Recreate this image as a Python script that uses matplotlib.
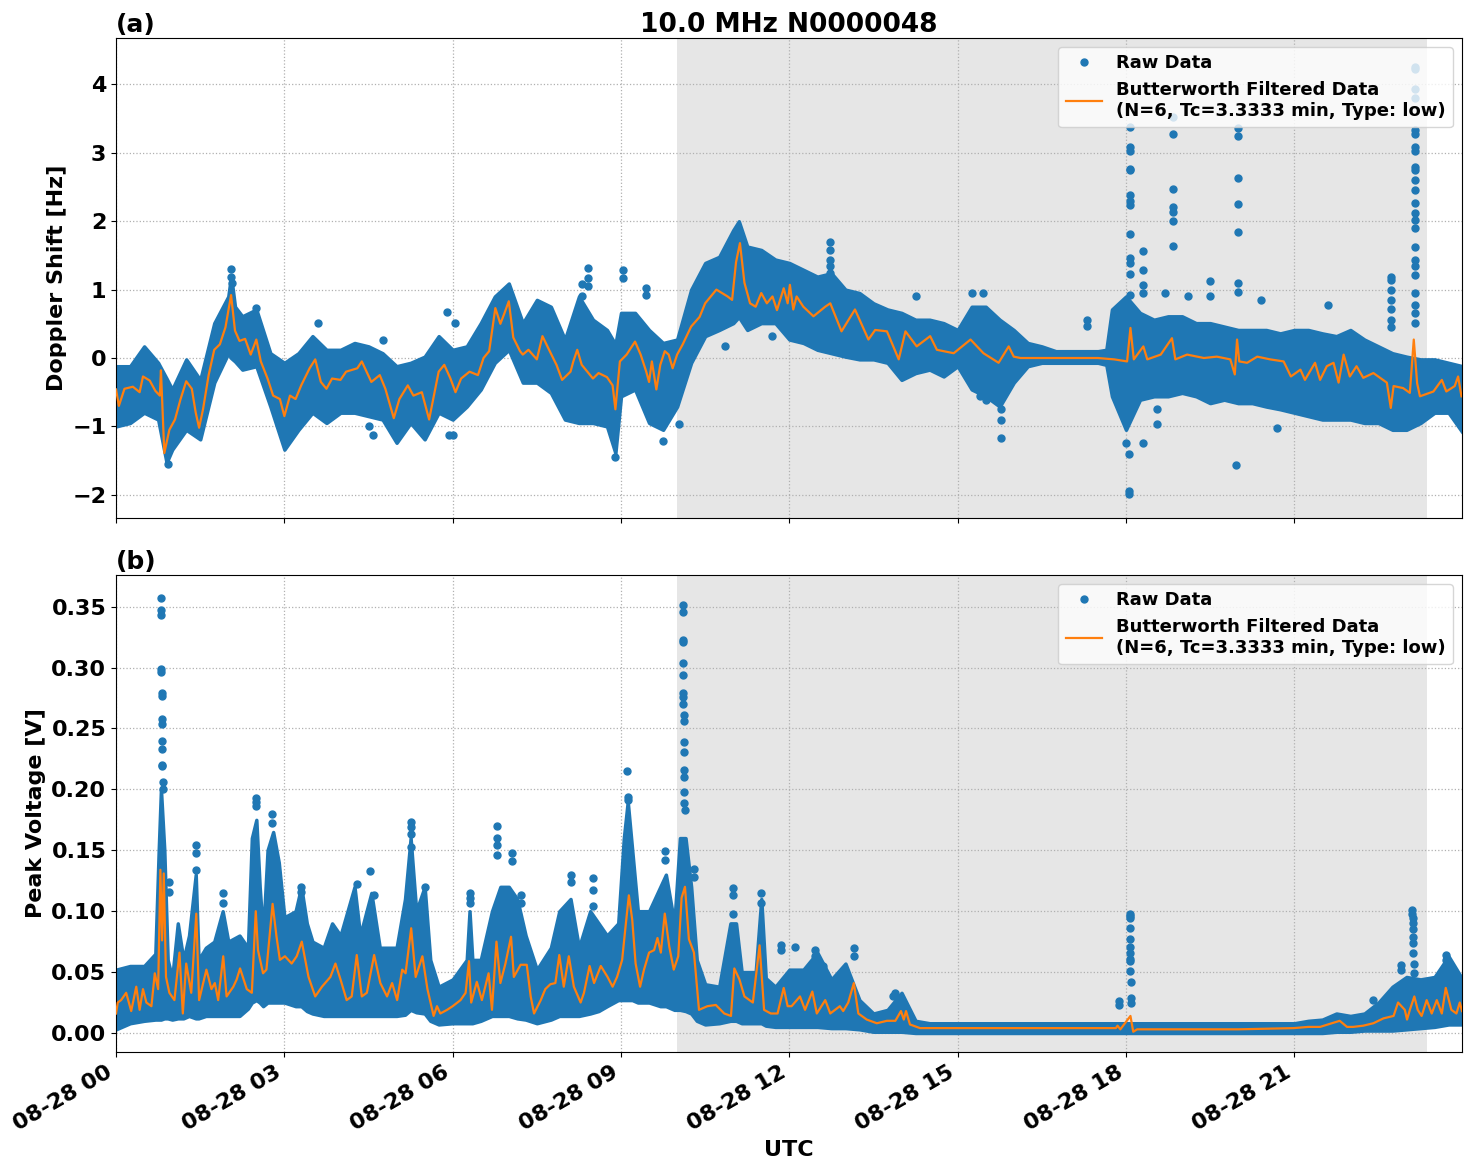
import numpy as np
import pandas as pd
import matplotlib
matplotlib.use('Agg')
import matplotlib.pyplot as plt
import matplotlib.dates as mdates

# hours after 2023-08-28 00 UTC
day = pd.Timestamp('2023-08-28')
shade_start, shade_end = 10.0, 23.36
x_end = 23.99

# Doppler shift: Butterworth filtered line [hour, Hz]
dop_filt = np.array([
    [0.0, -0.46], [0.05, -0.70], [0.15, -0.45], [0.3, -0.42], [0.42, -0.50], [0.48, -0.27],
    [0.6, -0.33], [0.7, -0.48], [0.78, -0.55], [0.8, -0.18], [0.86, -1.39], [0.95, -1.05],
    [1.05, -0.90], [1.15, -0.60], [1.25, -0.34], [1.35, -0.45], [1.42, -0.80], [1.48, -1.02],
    [1.55, -0.75], [1.65, -0.25], [1.75, 0.12], [1.85, 0.20], [1.95, 0.45], [2.05, 0.92],
    [2.12, 0.40], [2.2, 0.25], [2.3, 0.28], [2.4, 0.05], [2.5, 0.27], [2.58, -0.05],
    [2.7, -0.30], [2.8, -0.55], [2.92, -0.60], [3.0, -0.85], [3.1, -0.55], [3.2, -0.60],
    [3.3, -0.40], [3.45, -0.15], [3.55, -0.02], [3.65, -0.35], [3.75, -0.45], [3.85, -0.30],
    [4.0, -0.32], [4.1, -0.20], [4.3, -0.15], [4.38, -0.05], [4.55, -0.35], [4.7, -0.25],
    [4.8, -0.45], [4.95, -0.88], [5.05, -0.60], [5.2, -0.40], [5.3, -0.55], [5.45, -0.50],
    [5.58, -0.90], [5.75, -0.20], [5.85, -0.10], [5.96, -0.30], [6.05, -0.50], [6.15, -0.30],
    [6.3, -0.20], [6.45, -0.25], [6.55, 0.00], [6.65, 0.10], [6.76, 0.73], [6.85, 0.50],
    [6.92, 0.65], [7.0, 0.83], [7.08, 0.30], [7.2, 0.10], [7.25, 0.05], [7.35, 0.12],
    [7.5, -0.02], [7.6, 0.32], [7.7, 0.15], [7.85, -0.10], [7.95, -0.32], [8.1, -0.20],
    [8.15, -0.05], [8.22, 0.12], [8.3, -0.10], [8.4, -0.20], [8.5, -0.30], [8.6, -0.22],
    [8.75, -0.28], [8.85, -0.40], [8.9, -0.75], [8.98, -0.05], [9.1, 0.05], [9.25, 0.24],
    [9.35, 0.05], [9.45, -0.20], [9.5, -0.35], [9.55, -0.05], [9.63, -0.46], [9.7, -0.10],
    [9.78, 0.10], [9.85, 0.05], [9.92, -0.15], [10.0, 0.05], [10.1, 0.20], [10.25, 0.46],
    [10.4, 0.60], [10.5, 0.80], [10.6, 0.90], [10.7, 1.00], [10.8, 0.95], [10.9, 0.90],
    [10.98, 0.85], [11.05, 1.40], [11.12, 1.68], [11.2, 1.10], [11.3, 0.80], [11.4, 0.75],
    [11.5, 0.95], [11.6, 0.80], [11.7, 0.90], [11.78, 0.70], [11.9, 1.02], [11.97, 0.80],
    [12.01, 1.07], [12.07, 0.71], [12.13, 0.90], [12.25, 0.75], [12.43, 0.61], [12.64, 0.75],
    [12.73, 0.80], [12.93, 0.39], [13.17, 0.71], [13.41, 0.27], [13.53, 0.41], [13.74, 0.39],
    [13.95, -0.02], [14.07, 0.39], [14.27, 0.17], [14.51, 0.32], [14.63, 0.12], [14.93, 0.07],
    [15.23, 0.27], [15.46, 0.07], [15.73, -0.07], [15.91, 0.17], [16.0, 0.02], [16.12, 0.0],
    [16.5, 0.0], [17.0, 0.0], [17.5, 0.0], [17.79, -0.02], [18.02, -0.05], [18.08, 0.44],
    [18.14, -0.02], [18.31, 0.17], [18.38, -0.02], [18.62, 0.05], [18.82, 0.29], [18.88, -0.02],
    [19.09, 0.05], [19.39, 0.0], [19.62, 0.02], [19.86, -0.02], [19.94, -0.24], [19.98, 0.27],
    [20.02, -0.05], [20.16, -0.07], [20.34, 0.02], [20.57, -0.02], [20.81, -0.05], [20.94, -0.27],
    [21.11, -0.17], [21.19, -0.32], [21.37, -0.07], [21.46, -0.32], [21.58, -0.12], [21.7, -0.07],
    [21.79, -0.36], [21.88, 0.05], [21.99, -0.27], [22.11, -0.12], [22.23, -0.29], [22.41, -0.22],
    [22.65, -0.36], [22.72, -0.73], [22.77, -0.41], [22.94, -0.44], [23.06, -0.51], [23.13, 0.27],
    [23.19, -0.37], [23.24, -0.56], [23.48, -0.49], [23.63, -0.32], [23.71, -0.49], [23.86, -0.41],
    [23.92, -0.27], [23.98, -0.56],
])

# Doppler shift: spread of the raw points [hour, low, high]
dop_band = np.array([
    [0.0, -1.00, -0.12], [0.25, -0.95, -0.12], [0.5, -0.80, 0.17], [0.75, -0.90, -0.07],
    [0.9, -1.53, -0.30], [1.0, -1.34, -0.46], [1.25, -1.05, -0.02], [1.5, -1.19, -0.32],
    [1.75, -0.36, 0.51], [2.0, 0.07, 0.90], [2.05, 0.00, 1.20], [2.12, -0.05, 0.75],
    [2.25, -0.17, 0.61], [2.5, -0.12, 0.71], [2.75, -0.71, 0.07], [3.0, -1.34, -0.07],
    [3.25, -1.05, 0.07], [3.5, -0.80, 0.32], [3.75, -0.95, 0.12], [4.0, -0.80, 0.12],
    [4.25, -0.80, 0.22], [4.5, -0.85, 0.17], [4.75, -0.90, 0.07], [5.0, -1.24, -0.12],
    [5.25, -0.95, -0.07], [5.5, -1.19, 0.02], [5.75, -0.80, 0.32], [6.0, -0.90, 0.12],
    [6.25, -0.71, 0.17], [6.5, -0.46, 0.51], [6.75, -0.07, 0.90], [7.0, 0.12, 1.09],
    [7.25, -0.36, 0.51], [7.5, -0.36, 0.85], [7.75, -0.51, 0.75], [8.0, -0.90, 0.27],
    [8.25, -0.95, 0.90], [8.5, -0.95, 0.56], [8.75, -1.00, 0.41], [8.9, -1.39, 0.20],
    [9.0, -0.56, 0.66], [9.25, -0.46, 0.66], [9.5, -0.95, 0.41], [9.75, -1.05, 0.22],
    [10.0, -0.71, 0.27], [10.25, -0.07, 1.00], [10.5, 0.32, 1.39], [10.75, 0.41, 1.48],
    [11.0, 0.51, 1.87], [11.1, 0.60, 2.00], [11.25, 0.41, 1.63], [11.5, 0.51, 1.58],
    [11.75, 0.51, 1.44], [12.0, 0.27, 1.39], [12.25, 0.22, 1.29], [12.5, 0.12, 1.19],
    [12.75, 0.07, 1.24], [13.0, 0.02, 1.00], [13.25, -0.02, 0.95], [13.5, -0.02, 0.80],
    [13.75, -0.07, 0.71], [14.0, -0.32, 0.66], [14.25, -0.22, 0.56], [14.5, -0.17, 0.56],
    [14.75, -0.27, 0.51], [15.0, -0.12, 0.41], [15.25, -0.46, 0.75], [15.5, -0.56, 0.75],
    [15.75, -0.71, 0.56], [16.0, -0.36, 0.41], [16.25, -0.12, 0.22], [16.5, -0.07, 0.17],
    [16.75, -0.07, 0.10], [17.0, -0.07, 0.10], [17.25, -0.07, 0.10], [17.5, -0.07, 0.10],
    [17.65, -0.10, 0.12], [17.75, -0.56, 0.71], [18.0, -1.05, 0.90], [18.25, -0.61, 0.66],
    [18.5, -0.56, 0.56], [18.75, -0.56, 0.61], [19.0, -0.51, 0.61], [19.25, -0.56, 0.51],
    [19.5, -0.66, 0.51], [19.75, -0.61, 0.46], [20.0, -0.66, 0.41], [20.25, -0.66, 0.41],
    [20.5, -0.71, 0.41], [20.75, -0.75, 0.36], [21.0, -0.80, 0.41], [21.25, -0.85, 0.41],
    [21.5, -0.90, 0.36], [21.75, -0.90, 0.32], [22.0, -0.90, 0.41], [22.25, -0.95, 0.27],
    [22.5, -0.95, 0.17], [22.75, -1.05, 0.07], [23.0, -1.05, 0.02], [23.25, -0.95, -0.02],
    [23.5, -0.80, -0.02], [23.75, -0.80, -0.07], [24.0, -1.09, -0.12],
])

# Doppler shift: isolated raw points outside the band [hour, Hz]
dop_out = np.array([
    [2.04, 1.30], [2.04, 1.19], [2.07, 1.10], [2.5, 0.73], [3.6, 0.51], [5.9, 0.68],
    [4.75, 0.27], [6.05, 0.51], [4.58, -1.12], [4.5, -1.00], [5.93, -1.13], [0.92, -1.55],
    [8.42, 1.31], [8.42, 1.17], [8.42, 1.05], [8.3, 0.90], [8.3, 1.08], [9.04, 1.28],
    [9.04, 1.17], [9.45, 1.02], [9.45, 0.92], [6.0, -1.13], [10.03, -0.96], [9.75, -1.21],
    [10.85, 0.17], [11.7, 0.32], [8.9, -1.45],
    [12.73, 1.69], [12.73, 1.58], [12.73, 1.44], [12.73, 1.34], [12.73, 1.24],
    [15.78, -0.75], [15.78, -0.90], [15.78, -1.17], [15.4, -0.56], [15.5, -0.61],
    [15.25, 0.95], [15.45, 0.95], [14.25, 0.90], [17.3, 0.56], [17.3, 0.47],
    [18.08, 3.38], [18.08, 3.08], [18.08, 3.02], [18.08, 2.77], [18.08, 2.75], [18.08, 2.38],
    [18.08, 2.29], [18.08, 2.24], [18.08, 1.82], [18.08, 1.46], [18.08, 1.39], [18.08, 1.23],
    [18.08, 0.92], [18.0, -1.24], [18.06, -1.41], [18.06, -1.95], [18.06, -1.99],
    [18.84, 3.53], [18.84, 3.28], [18.84, 2.47], [18.84, 2.21], [18.84, 2.14], [18.84, 2.01],
    [18.84, 1.64],
    [19.99, 3.36], [19.99, 3.24], [19.99, 2.63], [19.99, 2.25], [19.99, 1.84], [19.99, 1.09],
    [19.99, 0.97], [19.96, -1.57],
    [23.15, 4.26], [23.15, 4.23], [23.15, 3.94], [23.15, 3.80], [23.15, 3.33], [23.15, 3.28],
    [23.15, 3.09], [23.15, 3.02], [23.15, 2.80], [23.15, 2.75], [23.15, 2.60], [23.15, 2.46],
    [23.15, 2.26], [23.15, 2.12], [23.15, 2.02], [23.15, 1.90], [23.15, 1.63], [23.15, 1.44],
    [23.15, 1.34], [23.15, 1.22], [23.15, 0.95], [23.15, 0.78], [23.15, 0.66], [23.15, 0.51],
    [22.72, 1.19], [22.72, 1.14], [22.72, 1.00], [22.72, 0.85], [22.72, 0.71], [22.72, 0.56],
    [22.72, 0.46],
    [18.3, 1.56], [18.3, 1.29], [18.3, 1.07], [18.3, 0.95], [18.55, -0.75], [18.55, -0.97],
    [18.3, -1.24], [20.7, -1.02], [19.5, 1.12], [19.5, 0.90], [18.7, 0.95], [19.1, 0.90],
    [20.4, 0.85], [21.6, 0.78],
])

# Peak voltage: Butterworth filtered line [hour, V]
vol_filt = np.array([
    [0.0, 0.016], [0.03, 0.025], [0.09, 0.027], [0.18, 0.033], [0.27, 0.018], [0.36, 0.038],
    [0.42, 0.019], [0.48, 0.036], [0.54, 0.025], [0.63, 0.022], [0.69, 0.049], [0.75, 0.036],
    [0.79, 0.134], [0.82, 0.076], [0.85, 0.131], [0.89, 0.046], [0.95, 0.033], [1.04, 0.027],
    [1.13, 0.066], [1.19, 0.016], [1.25, 0.057], [1.34, 0.033], [1.43, 0.098], [1.48, 0.027],
    [1.61, 0.052], [1.70, 0.036], [1.76, 0.041], [1.82, 0.027], [1.91, 0.063], [1.97, 0.030],
    [2.09, 0.038], [2.15, 0.044], [2.21, 0.053], [2.33, 0.036], [2.42, 0.033], [2.49, 0.100],
    [2.53, 0.068], [2.62, 0.049], [2.68, 0.052], [2.79, 0.106], [2.86, 0.079], [2.92, 0.060],
    [3.01, 0.063], [3.13, 0.057], [3.22, 0.063], [3.31, 0.075], [3.43, 0.046], [3.55, 0.030],
    [3.67, 0.038], [3.82, 0.046], [3.91, 0.057], [4.0, 0.044], [4.11, 0.027], [4.20, 0.030],
    [4.29, 0.064], [4.38, 0.030], [4.47, 0.033], [4.60, 0.064], [4.71, 0.041], [4.83, 0.030],
    [4.92, 0.041], [5.01, 0.027], [5.10, 0.052], [5.16, 0.049], [5.26, 0.086], [5.34, 0.046],
    [5.46, 0.063], [5.55, 0.036], [5.66, 0.014], [5.72, 0.022], [5.78, 0.016], [5.90, 0.019],
    [6.0, 0.022], [6.14, 0.027], [6.23, 0.033], [6.29, 0.059], [6.33, 0.025], [6.43, 0.042],
    [6.52, 0.027], [6.64, 0.049], [6.70, 0.019], [6.78, 0.075], [6.85, 0.041], [6.94, 0.057],
    [7.04, 0.079], [7.09, 0.046], [7.21, 0.056], [7.32, 0.056], [7.39, 0.030], [7.45, 0.016],
    [7.57, 0.027], [7.65, 0.036], [7.74, 0.040], [7.83, 0.041], [7.90, 0.064], [7.98, 0.038],
    [8.07, 0.063], [8.16, 0.038], [8.28, 0.025], [8.34, 0.033], [8.44, 0.055], [8.52, 0.041],
    [8.64, 0.055], [8.76, 0.046], [8.85, 0.038], [8.93, 0.046], [9.02, 0.060], [9.08, 0.087],
    [9.14, 0.113], [9.20, 0.093], [9.26, 0.057], [9.34, 0.038], [9.41, 0.052], [9.5, 0.066],
    [9.59, 0.068], [9.65, 0.078], [9.71, 0.066], [9.78, 0.098], [9.86, 0.071], [9.94, 0.052],
    [10.02, 0.063], [10.08, 0.111], [10.14, 0.120], [10.21, 0.077], [10.30, 0.066], [10.39, 0.019],
    [10.54, 0.022], [10.69, 0.023], [10.84, 0.016], [10.96, 0.014], [11.02, 0.053], [11.11, 0.044],
    [11.20, 0.030], [11.35, 0.025], [11.47, 0.072], [11.55, 0.019], [11.67, 0.016], [11.79, 0.016],
    [11.90, 0.037], [11.97, 0.022], [12.04, 0.022], [12.19, 0.030], [12.28, 0.019], [12.41, 0.034],
    [12.49, 0.016], [12.64, 0.027], [12.73, 0.016], [12.90, 0.022], [12.96, 0.018], [13.05, 0.025],
    [13.15, 0.041], [13.23, 0.016], [13.38, 0.011], [13.56, 0.008], [13.74, 0.010], [13.89, 0.010],
    [13.99, 0.018], [14.04, 0.011], [14.08, 0.018], [14.15, 0.007], [14.33, 0.004], [15.0, 0.004],
    [16.0, 0.004], [17.0, 0.004], [17.82, 0.004], [17.85, 0.006], [17.9, 0.003], [18.08, 0.014],
    [18.13, 0.001], [18.2, 0.003], [19.0, 0.003], [20.0, 0.003], [20.99, 0.004], [21.25, 0.005],
    [21.46, 0.005], [21.81, 0.010], [21.94, 0.005], [22.05, 0.005], [22.23, 0.006], [22.41, 0.008],
    [22.59, 0.012], [22.77, 0.014], [22.85, 0.025], [22.91, 0.022], [22.97, 0.019], [23.01, 0.011],
    [23.06, 0.019], [23.14, 0.030], [23.2, 0.019], [23.27, 0.014], [23.36, 0.027], [23.45, 0.016],
    [23.54, 0.027], [23.63, 0.016], [23.70, 0.037], [23.80, 0.019], [23.89, 0.016], [23.95, 0.025],
    [23.99, 0.018],
])

# Peak voltage: spread of the raw points [hour, low, high]
vol_band = np.array([
    [0.0, 0.003, 0.052], [0.25, 0.008, 0.055], [0.5, 0.010, 0.055], [0.7, 0.011, 0.065],
    [0.76, 0.011, 0.150], [0.8, 0.011, 0.200], [0.86, 0.012, 0.150], [0.92, 0.012, 0.060],
    [1.0, 0.011, 0.045], [1.1, 0.012, 0.090], [1.2, 0.012, 0.060], [1.3, 0.014, 0.080],
    [1.42, 0.012, 0.130], [1.47, 0.012, 0.060], [1.6, 0.014, 0.070], [1.75, 0.014, 0.075],
    [1.9, 0.014, 0.100], [2.0, 0.014, 0.075], [2.2, 0.014, 0.080], [2.35, 0.020, 0.070],
    [2.42, 0.025, 0.160], [2.5, 0.027, 0.175], [2.56, 0.025, 0.120], [2.62, 0.022, 0.080],
    [2.7, 0.025, 0.150], [2.8, 0.025, 0.165], [2.9, 0.025, 0.140], [3.0, 0.025, 0.095],
    [3.2, 0.022, 0.100], [3.3, 0.022, 0.120], [3.4, 0.018, 0.090], [3.5, 0.016, 0.075],
    [3.7, 0.014, 0.070], [3.85, 0.014, 0.090], [4.0, 0.014, 0.080], [4.25, 0.014, 0.120],
    [4.35, 0.014, 0.080], [4.55, 0.014, 0.115], [4.7, 0.014, 0.070], [5.0, 0.014, 0.070],
    [5.15, 0.015, 0.110], [5.25, 0.019, 0.160], [5.35, 0.017, 0.100], [5.5, 0.016, 0.120],
    [5.6, 0.010, 0.060], [5.75, 0.007, 0.038], [6.0, 0.008, 0.044], [6.25, 0.008, 0.060],
    [6.3, 0.008, 0.100], [6.35, 0.008, 0.060], [6.5, 0.010, 0.060], [6.7, 0.014, 0.100],
    [6.85, 0.014, 0.120], [7.0, 0.014, 0.120], [7.15, 0.012, 0.110], [7.3, 0.011, 0.080],
    [7.5, 0.008, 0.052], [7.75, 0.011, 0.070], [7.9, 0.014, 0.100], [8.1, 0.014, 0.110],
    [8.25, 0.014, 0.070], [8.45, 0.016, 0.100], [8.6, 0.018, 0.090], [8.75, 0.022, 0.080],
    [8.95, 0.027, 0.090], [9.05, 0.027, 0.160], [9.12, 0.027, 0.190], [9.2, 0.027, 0.150],
    [9.3, 0.025, 0.100], [9.5, 0.025, 0.100], [9.7, 0.022, 0.120], [9.8, 0.022, 0.130],
    [9.95, 0.019, 0.090], [10.05, 0.019, 0.160], [10.15, 0.018, 0.160], [10.25, 0.016, 0.120],
    [10.35, 0.010, 0.060], [10.5, 0.007, 0.040], [10.75, 0.008, 0.038], [10.95, 0.010, 0.090],
    [11.05, 0.010, 0.090], [11.15, 0.008, 0.050], [11.4, 0.008, 0.050], [11.5, 0.008, 0.110],
    [11.58, 0.006, 0.045], [11.75, 0.005, 0.038], [12.0, 0.005, 0.052], [12.25, 0.005, 0.052],
    [12.5, 0.005, 0.066], [12.75, 0.004, 0.044], [13.0, 0.004, 0.057], [13.25, 0.003, 0.027],
    [13.5, 0.001, 0.016], [13.75, 0.001, 0.019], [14.0, 0.001, 0.033], [14.25, 0.0, 0.010],
    [14.5, 0.0, 0.008], [15.0, 0.0, 0.008], [16.0, 0.0, 0.008], [17.0, 0.0, 0.008],
    [18.0, 0.0, 0.008], [19.0, 0.0, 0.008], [20.0, 0.0, 0.008], [21.0, 0.0, 0.008],
    [21.25, 0.0, 0.010], [21.5, 0.0, 0.011], [21.75, 0.001, 0.016], [22.0, 0.001, 0.014],
    [22.25, 0.002, 0.016], [22.5, 0.002, 0.025], [22.75, 0.002, 0.038], [23.0, 0.003, 0.046],
    [23.25, 0.004, 0.044], [23.5, 0.005, 0.046], [23.75, 0.007, 0.063], [24.0, 0.007, 0.044],
])

# Peak voltage: isolated raw points above the band [hour, V]
vol_out = np.array([
    [0.80, 0.357], [0.80, 0.347], [0.80, 0.343], [0.80, 0.299], [0.80, 0.296], [0.81, 0.279],
    [0.81, 0.277], [0.81, 0.258], [0.81, 0.254], [0.82, 0.240], [0.82, 0.233], [0.82, 0.220],
    [0.82, 0.219], [0.83, 0.206], [0.83, 0.200],
    [1.42, 0.154], [1.42, 0.148], [1.42, 0.134], [0.95, 0.124], [0.95, 0.116],
    [2.5, 0.193], [2.5, 0.190], [2.5, 0.186], [2.78, 0.180], [2.78, 0.172],
    [3.3, 0.120], [3.3, 0.116], [1.9, 0.115], [1.9, 0.107], [4.3, 0.122], [4.6, 0.113],
    [5.25, 0.173], [5.25, 0.169], [5.25, 0.163], [5.25, 0.153], [5.5, 0.120], [4.53, 0.133],
    [6.3, 0.115], [6.3, 0.111], [6.3, 0.107], [6.79, 0.170], [6.79, 0.160], [6.79, 0.154],
    [6.79, 0.146], [7.06, 0.148], [7.06, 0.141], [7.22, 0.113], [7.22, 0.107],
    [8.1, 0.130], [8.1, 0.124], [8.5, 0.127], [8.5, 0.117], [8.5, 0.104],
    [9.1, 0.215], [9.12, 0.194], [9.12, 0.191], [9.78, 0.149], [9.78, 0.142],
    [10.1, 0.351], [10.1, 0.346], [10.1, 0.323], [10.1, 0.321], [10.11, 0.304], [10.11, 0.294],
    [10.11, 0.279], [10.11, 0.276], [10.11, 0.270], [10.12, 0.261], [10.12, 0.256],
    [10.12, 0.239], [10.12, 0.231], [10.13, 0.216], [10.13, 0.210], [10.13, 0.198],
    [10.13, 0.189], [10.14, 0.183],
    [10.3, 0.135], [10.3, 0.128], [11.0, 0.119], [11.0, 0.113], [11.0, 0.098],
    [11.5, 0.115], [11.5, 0.107], [11.85, 0.072], [11.85, 0.068],
    [12.1, 0.071], [12.45, 0.068], [12.45, 0.063], [12.6, 0.055], [13.15, 0.070], [13.15, 0.063],
    [13.85, 0.030], [13.88, 0.033], [17.87, 0.026], [17.87, 0.023],
    [18.08, 0.098], [18.08, 0.096], [18.08, 0.094], [18.08, 0.086], [18.08, 0.077], [18.08, 0.071],
    [18.08, 0.066], [18.08, 0.061], [18.08, 0.059], [18.08, 0.051], [18.09, 0.042],
    [18.09, 0.029], [18.09, 0.025],
    [22.9, 0.056], [22.9, 0.052],
    [23.1, 0.101], [23.1, 0.098], [23.11, 0.094], [23.11, 0.090], [23.11, 0.085], [23.12, 0.079],
    [23.12, 0.074], [23.12, 0.066], [23.13, 0.057], [23.13, 0.049], [23.13, 0.038],
    [23.7, 0.064], [23.7, 0.060], [22.4, 0.027],
])


def to_time(h):
    return day + pd.to_timedelta(np.asarray(h), unit='h')


filt_label = 'Butterworth Filtered Data\n(N=6, Tc=3.3333 min, Type: low)'

fig = plt.figure(figsize=(14.71, 11.72), dpi=100)
ax1 = fig.add_axes([0.0789, 0.558, 0.915, 0.4096])
ax2 = fig.add_axes([0.0789, 0.1024, 0.915, 0.407], sharex=ax1)

panels = [
    (ax1, dop_band, dop_out, dop_filt, 'Doppler Shift [Hz]', '(a)', (-2.34, 4.68)),
    (ax2, vol_band, vol_out, vol_filt, 'Peak Voltage [V]', '(b)', (-0.0156, 0.376)),
]

for ax, band, out, filt, ylabel, tag, ylim in panels:
    ax.axvspan(to_time(shade_start), to_time(shade_end), color='#e6e6e6', zorder=0, lw=0)
    ax.fill_between(to_time(band[:, 0]), band[:, 1], band[:, 2],
                    color='C0', edgecolor='C0', lw=2.5, zorder=2)
    ax.plot(to_time(out[:, 0]), out[:, 1], '.', color='C0', ms=10, zorder=2, label='Raw Data')
    ax.plot(to_time(filt[:, 0]), filt[:, 1], color='C1', lw=1.6, zorder=3, label=filt_label)
    ax.set_ylim(*ylim)
    ax.set_ylabel(ylabel, fontsize=16, fontweight='bold')
    ax.grid(True, linestyle=':', color='#b0b0b0', lw=0.9)
    ax.set_title(tag, loc='left', fontsize=18, fontweight='bold', pad=4)
    ax.legend(loc='upper right', prop={'weight': 'bold', 'size': 13})
    ax.tick_params(labelsize=16)
    for line in ax.get_xgridlines() + ax.get_ygridlines():
        line.set_zorder(1)

ax1.set_title('10.0 MHz N0000048', fontsize=19, fontweight='bold', pad=4)
ax1.set_yticks([-2, -1, 0, 1, 2, 3, 4])

ax2.set_xlim(to_time(0), to_time(x_end))
ax2.xaxis.set_major_locator(mdates.HourLocator(byhour=range(0, 24, 3)))
ax2.xaxis.set_major_formatter(mdates.DateFormatter('%m-%d %H'))
plt.setp(ax1.get_xticklabels(), visible=False)
for lab in ax2.get_xticklabels():
    lab.set_rotation(30)
    lab.set_ha('right')
    lab.set_fontweight('bold')
ax2.set_xlabel('UTC', fontsize=16, fontweight='bold')
for ax in (ax1, ax2):
    for lab in ax.get_yticklabels():
        lab.set_fontweight('bold')

fig.savefig('out.png', dpi=100)
